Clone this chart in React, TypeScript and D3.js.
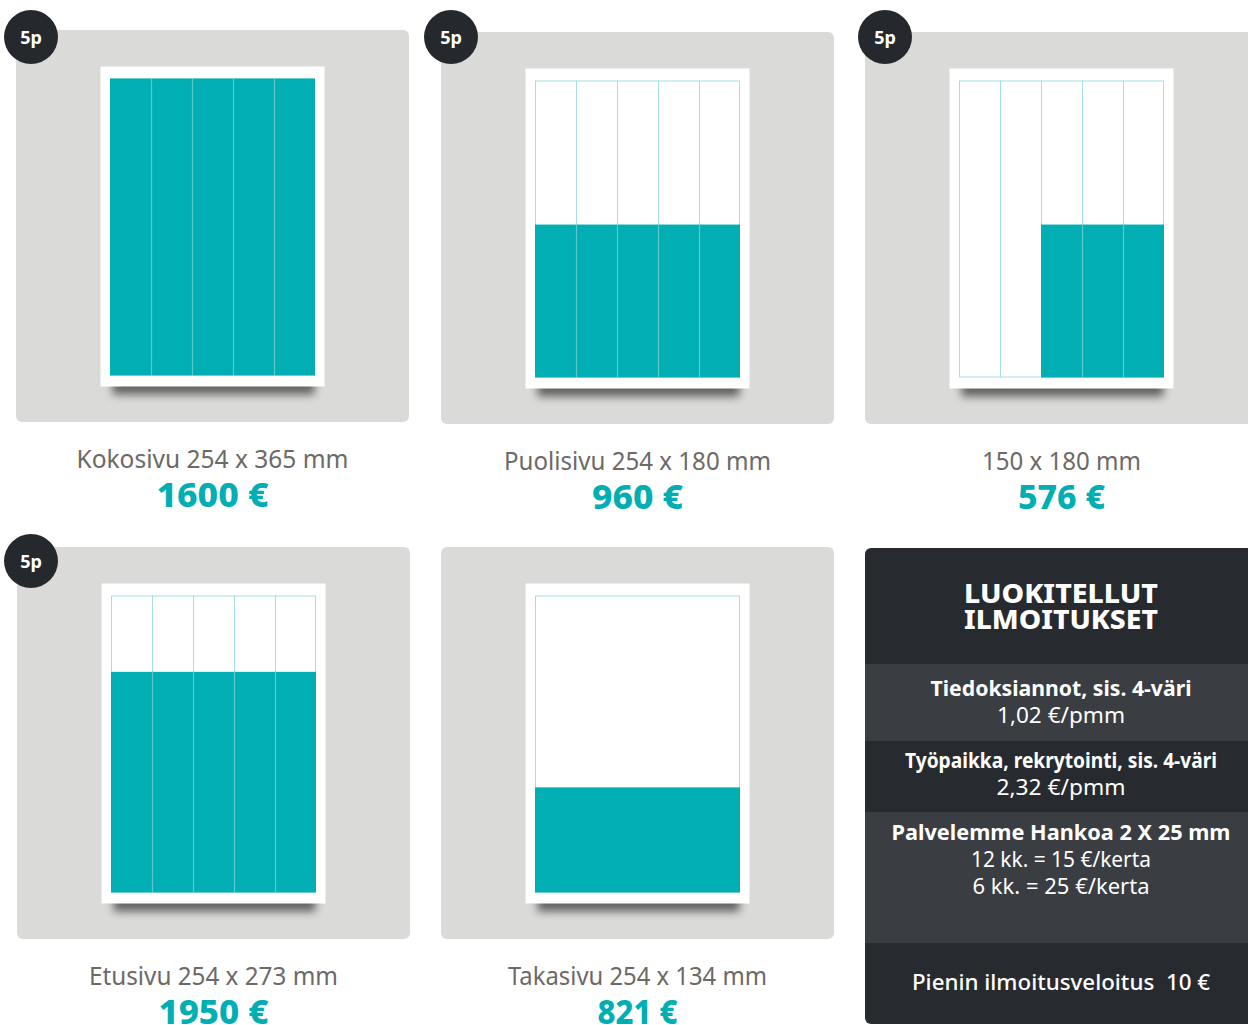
import React from "react";
import * as d3 from "d3";

// ---------- data ----------
const adLabels = [
  "Kokosivu 254 x 365 mm",
  "Puolisivu 254 x 180 mm",
  "150 x 180 mm",
  "Etusivu 254 x 273 mm",
  "Takasivu 254 x 134 mm",
];
const adPrices = [1600, 960, 576, 1950, 821];
const badgeLabels = ["5p", "5p", "5p", "5p", ""];
const columnCounts = [5, 5, 5, 5, 1];
const filledColumns = [5, 5, 3, 5, 1]; // filled from the right-hand side
const filledShare = [1, 0.515, 0.515, 0.743, 0.354]; // share of page height filled (from bottom)

const classifiedTitle = ["LUOKITELLUT", "ILMOITUKSET"];
const classifiedHeadings = [
  "Tiedoksiannot, sis. 4-väri",
  "Työpaikka, rekrytointi, sis. 4-väri",
  "Palvelemme Hankoa 2 X 25 mm",
];
const classifiedLines = [
  ["1,02 €/pmm"],
  ["2,32 €/pmm"],
  ["12 kk. = 15 €/kerta", "6 kk. = 25 €/kerta"],
];
const minimumCharge = "Pienin ilmoitusveloitus  10 €";

// ---------- layout ----------
const W = 1248;
const H = 1025;
const CARD_POS = [
  [16, 30],
  [441, 32],
  [865, 32],
  [17, 547],
  [441, 547],
];
const BADGE_POS = [
  [31, 37],
  [451, 37],
  [885, 37],
  [31, 561],
  [0, 0],
];
const CARD_W = 393;
const CARD_H = 392;
const PAGE_DX = 84.5;
const PAGE_DY = 36.5;
const PAGE_W = 224;
const PAGE_H = 320;
const INNER_DX = 9.5;
const INNER_DY = 12;
const INNER_W = 205;
const INNER_H = 297;
const LABEL_W = [272, 267, 159, 249, 259];
const PRICE_W = [112, 91, 87, 110, 80];

const TEAL = "#00aeb3";
const GRID = "#a6dfe1";
const CARD_BG = "#dadad8";
const DARK = "#272b2f";
const DARK_LIGHT = "#3a3d42";
const LABEL_COL = "#6c6967";
const FONT = "'Noto Sans', 'Open Sans', sans-serif";

const priceFmt = (v: number) => `${d3.format("d")(v)} €`;

function AdCard({ i }: { i: number }) {
  const [cx, cy] = CARD_POS[i];
  const px = cx + PAGE_DX;
  const py = cy + PAGE_DY;
  const ix = px + INNER_DX;
  const iy = py + INNER_DY;
  const cols = d3.range(columnCounts[i]);
  const xs = d3.scaleBand<number>().domain(cols).range([ix, ix + INNER_W]).padding(0);
  const ys = d3.scaleLinear().domain([0, 1]).range([iy + INNER_H, iy]);
  const firstFilled = columnCounts[i] - filledColumns[i];
  const fillX0 = xs(firstFilled) as number;
  const fillX1 = ix + INNER_W;
  const fillTop = ys(filledShare[i]);
  const fillBottom = ys(0);
  const centerX = cx + CARD_W / 2;
  const separators = cols.slice(1);

  return (
    <g>
      <rect x={cx} y={cy} width={CARD_W} height={CARD_H} rx={6} fill={CARD_BG} />
      {/* page shadow */}
      <rect
        x={px + 12}
        y={py + PAGE_H - 8}
        width={PAGE_W - 22}
        height={16}
        fill="#000"
        opacity={0.55}
        filter="url(#pageShadow)"
      />
      <rect x={px} y={py} width={PAGE_W} height={PAGE_H} fill="#fff" />
      <rect
        x={ix + 0.5}
        y={iy + 0.5}
        width={INNER_W - 1}
        height={INNER_H - 1}
        fill="#fff"
        stroke={GRID}
        strokeWidth={1}
      />
      {separators.map((c) => (
        <line
          key={"g" + c}
          x1={Math.round(xs(c) as number) + 0.5}
          x2={Math.round(xs(c) as number) + 0.5}
          y1={iy}
          y2={fillBottom}
          stroke={GRID}
          strokeWidth={1}
        />
      ))}
      <rect x={fillX0} y={fillTop} width={fillX1 - fillX0} height={fillBottom - fillTop} fill={TEAL} />
      {separators
        .filter((c) => c > firstFilled)
        .map((c) => (
          <line
            key={"t" + c}
            x1={Math.round(xs(c) as number) + 0.5}
            x2={Math.round(xs(c) as number) + 0.5}
            y1={fillTop}
            y2={fillBottom}
            stroke="#ffffff"
            strokeOpacity={0.35}
            strokeWidth={1.2}
          />
        ))}
      <text
        x={centerX}
        y={cy + 438}
        textAnchor="middle"
        fontFamily={FONT}
        fontSize={25}
        fill={LABEL_COL}
        textLength={LABEL_W[i]}
        lengthAdjust="spacingAndGlyphs"
      >
        {adLabels[i]}
      </text>
      <text
        x={centerX}
        y={cy + 477}
        textAnchor="middle"
        fontFamily={FONT}
        fontWeight={800}
        fontSize={33}
        fill={TEAL}
        textLength={PRICE_W[i]}
        lengthAdjust="spacingAndGlyphs"
      >
        {priceFmt(adPrices[i])}
      </text>
    </g>
  );
}

function Badge({ i }: { i: number }) {
  if (!badgeLabels[i]) return null;
  const [bx, by] = BADGE_POS[i];
  return (
    <g>
      <circle cx={bx} cy={by} r={27} fill="#25292d" />
      <text
        x={bx}
        y={by + 6.5}
        textAnchor="middle"
        fontFamily={FONT}
        fontWeight={700}
        fontSize={18}
        fill="#fff"
      >
        {badgeLabels[i]}
      </text>
    </g>
  );
}

function ClassifiedPanel() {
  const x0 = 865;
  const y0 = 548;
  const cxm = 1061;
  const bands = [
    { y: 548, h: 116, fill: DARK },
    { y: 664, h: 77, fill: DARK_LIGHT },
    { y: 741, h: 71, fill: DARK },
    { y: 812, h: 131, fill: DARK_LIGHT },
    { y: 943, h: 81, fill: DARK },
  ];
  const headingY = [696, 768, 840];
  const headingW = [261, 312, 339];
  const lineW = [[128], [129], [180, 177]];
  return (
    <g>
      <defs>
        <clipPath id="panelClip">
          <rect x={x0} y={y0} width={420} height={476} rx={6} />
        </clipPath>
      </defs>
      <g clipPath="url(#panelClip)">
        {bands.map((b, k) => (
          <rect key={k} x={x0} y={b.y} width={420} height={b.h} fill={b.fill} />
        ))}
      </g>
      {classifiedTitle.map((t, k) => (
        <text
          key={t}
          x={cxm}
          y={603 + k * 26}
          textAnchor="middle"
          fontFamily={FONT}
          fontWeight={800}
          fontSize={27}
          fill="#fff"
          textLength={194}
          lengthAdjust="spacingAndGlyphs"
        >
          {t}
        </text>
      ))}
      {classifiedHeadings.map((h, k) => (
        <g key={h}>
          <text
            x={cxm}
            y={headingY[k]}
            textAnchor="middle"
            fontFamily={FONT}
            fontWeight={700}
            fontSize={21}
            fill="#fff"
            textLength={headingW[k]}
            lengthAdjust="spacingAndGlyphs"
          >
            {h}
          </text>
          {classifiedLines[k].map((l, j) => (
            <text
              key={l}
              x={cxm}
              y={headingY[k] + 27 + j * 26.5}
              textAnchor="middle"
              fontFamily={FONT}
              fontWeight={400}
              fontSize={21}
              fill="#fff"
              textLength={lineW[k][j]}
              lengthAdjust="spacingAndGlyphs"
            >
              {l}
            </text>
          ))}
        </g>
      ))}
      <text
        x={cxm}
        y={990}
        textAnchor="middle"
        fontFamily={FONT}
        fontWeight={500}
        fontSize={21}
        fill="#fff"
        textLength={298}
        lengthAdjust="spacingAndGlyphs"
        style={{ whiteSpace: "pre" }}
      >
        {minimumCharge}
      </text>
    </g>
  );
}

export default function App() {
  return (
    <svg
      width={W}
      height={H}
      viewBox={`0 0 ${W} ${H}`}
      style={{ position: "absolute", left: 0, top: 0, display: "block", background: "#fff" }}
    >
      <defs>
        <filter id="pageShadow" x="-20%" y="-100%" width="140%" height="300%">
          <feGaussianBlur stdDeviation={4} />
        </filter>
      </defs>
      <rect x={0} y={0} width={W} height={H} fill="#fff" />
      {adLabels.map((_, i) => (
        <AdCard key={i} i={i} />
      ))}
      <ClassifiedPanel />
      {adLabels.map((_, i) => (
        <Badge key={"b" + i} i={i} />
      ))}
    </svg>
  );
}
